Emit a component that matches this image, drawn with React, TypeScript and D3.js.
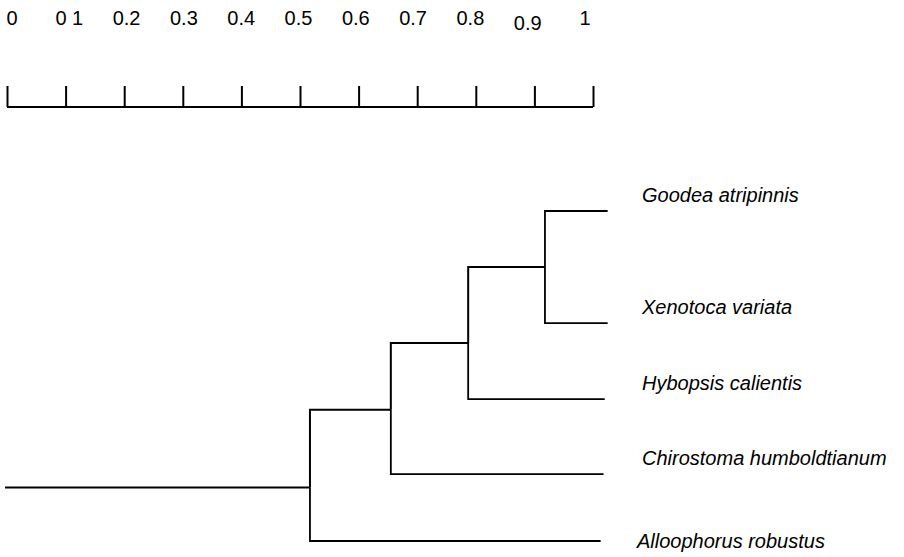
import React, { useEffect, useRef } from "react";
import * as d3 from "d3";

// scale bar
const tickValues = [0, 0.1, 0.2, 0.3, 0.4, 0.5, 0.6, 0.7, 0.8, 0.9, 1];
const tickLabels = ["0", "0 1", "0.2", "0.3", "0.4", "0.5", "0.6", "0.7", "0.8", "0.9", "1"];

// internal nodes of the tree (distance on the bar, vertical row)
const clusterIds = ["root", "c1", "c2", "c3"];
const clusterParent = ["", "root", "c1", "c2"];
const clusterDist = [0.517, 0.655, 0.787, 0.918];
const clusterRow = [4.35, 3.41, 2.6, 1.68];

// leaves
const taxa = [
  "Goodea atripinnis",
  "Xenotoca variata",
  "Hybopsis calientis",
  "Chirostoma humboldtianum",
  "Alloophorus robustus",
];
const taxonParent = ["c3", "c3", "c2", "c1", "root"];
const taxonDist = [1.025, 1.025, 1.02, 1.018, 1.013];
const taxonRow = [1, 2.36, 3.28, 4.19, 5];

const W = 904;
const H = 557;

export default function App() {
  const ref = useRef<SVGSVGElement>(null);

  useEffect(() => {
    const svg = d3.select(ref.current);
    svg.selectAll("*").remove();

    const x = d3.scaleLinear().domain([0, 1]).range([7, 593]);
    const xLabel = d3.scaleLinear().domain([0, 1]).range([12, 585]);
    const y = d3.scaleLinear().domain([1, 5]).range([211, 541]);

    // scale bar
    const axis = d3
      .axisTop(x)
      .tickValues(tickValues)
      .tickSize(21)
      .tickFormat(() => "");
    const g = svg.append("g").attr("transform", "translate(0,107)").call(axis);
    g.select(".domain").attr("stroke", "#000").attr("stroke-width", 2).attr("d", `M${x(0)},0H${x(1)}`);
    g.selectAll(".tick line").attr("stroke", "#000").attr("stroke-width", 2);

    svg
      .append("g")
      .selectAll("text")
      .data(tickValues)
      .join("text")
      .attr("x", (d) => xLabel(d))
      .attr("y", (d, i) => (i === 9 ? 30 : 25))
      .attr("text-anchor", "middle")
      .attr("font-family", "'Liberation Sans', Arial, sans-serif")
      .attr("font-size", 20)
      .attr("fill", "#000")
      .text((d, i) => tickLabels[i]);

    // tree
    const rows = [
      ...clusterIds.map((id, i) => ({ id, parent: clusterParent[i], dist: clusterDist[i], row: clusterRow[i] })),
      ...taxa.map((id, i) => ({ id, parent: taxonParent[i], dist: taxonDist[i], row: taxonRow[i] })),
    ];
    const root = d3
      .stratify<any>()
      .id((d) => d.id)
      .parentId((d) => d.parent || null)(rows);

    const tree = svg.append("g").attr("fill", "none").attr("stroke", "#000").attr("stroke-width", 2);

    // stem of the root
    tree
      .append("path")
      .attr("d", `M${x(0) - 2},${y(root.data.row)}H${x(root.data.dist)}`);

    tree
      .selectAll("path.link")
      .data(root.descendants().slice(1))
      .join("path")
      .attr("class", "link")
      .attr("stroke-width", (d: any) => (d.children ? 2 : 1.8))
      .attr(
        "d",
        (d: any) =>
          `M${x(d.parent.data.dist)},${y(d.parent.data.row)}V${y(d.data.row)}H${x(d.data.dist)}`
      );

    // leaf labels
    svg
      .append("g")
      .selectAll("text")
      .data(root.leaves())
      .join("text")
      .attr("x", (d: any) => (d.parent.id === "root" ? 637 : 642))
      .attr("y", (d: any) => (d.parent.id === "root" ? y(d.data.row) + 7 : y(d.data.row) - 9))
      .attr("font-family", "'Liberation Sans', Arial, sans-serif")
      .attr("font-style", "italic")
      .attr("font-size", 20)
      .attr("fill", "#000")
      .text((d: any) => d.id);
  }, []);

  return (
    <svg
      ref={ref}
      width={W}
      height={H}
      style={{ position: "absolute", left: 0, top: 0, background: "#fff" }}
    />
  );
}
